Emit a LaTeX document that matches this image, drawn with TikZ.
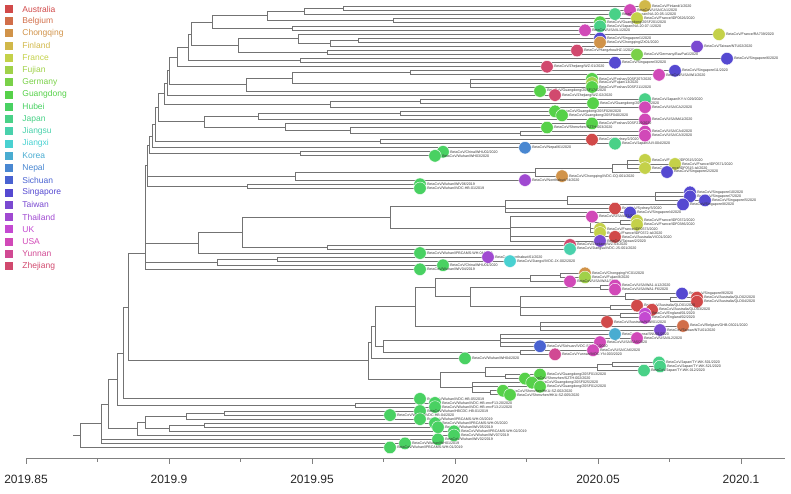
\documentclass[tikz,border=0pt]{standalone}
\usepackage{fontspec}
\setmainfont{Liberation Sans}
\usetikzlibrary{positioning,backgrounds}
\definecolor{cAustralia}{RGB}{209,73,73}
\definecolor{cBelgium}{RGB}{209,110,73}
\definecolor{cChongqing}{RGB}{209,147,73}
\definecolor{cFinland}{RGB}{209,184,73}
\definecolor{cFrance}{RGB}{196,209,73}
\definecolor{cFujian}{RGB}{160,209,73}
\definecolor{cGermany}{RGB}{122,209,73}
\definecolor{cGuangdong}{RGB}{86,209,73}
\definecolor{cHubei}{RGB}{73,209,98}
\definecolor{cJapan}{RGB}{73,209,135}
\definecolor{cJiangsu}{RGB}{73,209,172}
\definecolor{cJiangxi}{RGB}{73,209,209}
\definecolor{cKorea}{RGB}{73,172,209}
\definecolor{cNepal}{RGB}{73,135,209}
\definecolor{cSichuan}{RGB}{73,98,209}
\definecolor{cSingapore}{RGB}{85,73,209}
\definecolor{cTaiwan}{RGB}{122,73,209}
\definecolor{cThailand}{RGB}{160,73,209}
\definecolor{cUK}{RGB}{196,73,209}
\definecolor{cUSA}{RGB}{209,73,184}
\definecolor{cYunnan}{RGB}{209,73,147}
\definecolor{cZhejiang}{RGB}{209,73,110}
\newcommand{\tip}[4]{%
  \node[dot, fill=c#3] (t#1) at (#2, {6+4.05*(#1-1)}) {};
  \node[tl, right=0pt of t#1] (l#1) {BetaCoV/#4};}
\newcommand{\nd}[3]{\coordinate (#1) at (#2, {6+4.05*(#3-1)});}
\newcommand{\br}[2]{\foreach \ch in {#2} {\draw[twig] (#1) |- (\ch);}}

\begin{document}
\begin{tikzpicture}[x=1pt, y=-1pt,
  dot/.style={circle, draw=white, line width=0.4pt, minimum size=12.5pt, inner sep=0pt},
  tl/.style={font=\fontsize{3.6}{4}\selectfont, text=black!80, inner sep=0.6pt},
  twig/.style={draw=black!55, line width=0.75pt},
  sq/.style={minimum size=8pt, inner sep=0pt},
  lgt/.style={font=\fontsize{8.5}{10}\selectfont, inner sep=0pt},
  axisl/.style={draw=black!50, line width=0.7pt},
  ticklab/.style={font=\fontsize{12}{14}\selectfont, text=black!85, inner sep=0pt}]
  \useasboundingbox (0,0) rectangle (791,493);

  \foreach \nm [count=\i from 0] in {Australia,Belgium,Chongqing,Finland,France,Fujian,Germany,Guangdong,Hubei,Japan,Jiangsu,Jiangxi,Korea,Nepal,Sichuan,Singapore,Taiwan,Thailand,UK,USA,Yunnan,Zhejiang} {
    \node[sq, fill=c\nm] (sq\i) at (9, {9+12.24*\i}) {};
    \node[lgt, text=c\nm, right=9pt of sq\i] (lg\i) {\nm};
  }

  \tip{1}{645}{Finland}{Finland/1/2020}
  \tip{2}{630}{USA}{USA/CA1/2020}
  \tip{3}{615}{Japan}{Japan/NA-20-05-1/2020}
  \tip{4}{637}{France}{France/IDF0626/2020}
  \tip{5}{600}{Guangdong}{Guangdong/20SF201/2020}
  \tip{6}{600}{Japan}{Japan/NA-20-07-1/2020}
  \tip{7}{585}{USA}{USA/IL1/2020}
  \tip{8}{719}{France}{France/RA739/2020}
  \tip{9}{600}{Singapore}{Singapore/1/2020}
  \tip{10}{600}{Chongqing}{Chongqing/ZX01/2020}
  \tip{11}{697}{Taiwan}{Taiwan/NTU02/2020}
  \tip{12}{577}{Zhejiang}{Hangzhou/HZ-1/2020}
  \tip{13}{637}{Germany}{Germany/BavPat1/2020}
  \tip{14}{727}{Singapore}{Singapore/6/2020}
  \tip{15}{615}{Singapore}{Singapore/3/2020}
  \tip{16}{547}{Zhejiang}{Zhejiang/WZ-01/2020}
  \tip{17}{675}{Singapore}{Singapore/11/2020}
  \tip{18}{659}{USA}{USA/WI1/2020}
  \tip{19}{592}{Guangdong}{Foshan/20SF207/2020}
  \tip{20}{592}{Fujian}{Fujian/13/2020}
  \tip{21}{592}{Guangdong}{Foshan/20SF211/2020}
  \tip{22}{540}{Guangdong}{Guangdong/20SF174/2020}
  \tip{23}{555}{Zhejiang}{Zhejiang/WZ-02/2020}
  \tip{24}{645}{Japan}{Japan/KY-V-029/2020}
  \tip{25}{593}{Guangdong}{Guangdong/20SF176/2020}
  \tip{26}{645}{USA}{USA/CA2/2020}
  \tip{27}{555}{Guangdong}{Guangdong/20SF028/2020}
  \tip{28}{562}{Guangdong}{Guangdong/20SF040/2020}
  \tip{29}{645}{USA}{USA/MA1/2020}
  \tip{30}{592}{Guangdong}{Foshan/20SF210/2020}
  \tip{31}{547}{Guangdong}{Shenzhen/SZTH-003/2020}
  \tip{32}{645}{USA}{USA/CA4/2020}
  \tip{33}{645}{USA}{USA/CA3/2020}
  \tip{34}{592}{Australia}{Sydney/2/2020}
  \tip{35}{615}{Japan}{Japan/AI/I-004/2020}
  \tip{36}{525}{Nepal}{Nepal/61/2020}
  \tip{37}{443}{Hubei}{China/WHU02/2020}
  \tip{38}{435}{Hubei}{Wuhan/WH03/2020}
  \tip{39}{645}{France}{France/IDF0515/2020}
  \tip{40}{675}{France}{France/IDF0571/2020}
  \tip{41}{645}{France}{France/IDF0515-isl/2020}
  \tip{42}{667}{Singapore}{Singapore/2/2020}
  \tip{43}{562}{Chongqing}{Chongqing/IVDC-CQ-001/2020}
  \tip{44}{525}{Thailand}{Nonthaburi/74/2020}
  \tip{45}{420}{Hubei}{Wuhan/WIV06/2019}
  \tip{46}{420}{Hubei}{Wuhan/IVDC-HB-01/2019}
  \tip{47}{690}{Singapore}{Singapore/10/2020}
  \tip{48}{690}{Singapore}{Singapore/7/2020}
  \tip{49}{705}{Singapore}{Singapore/5/2020}
  \tip{50}{683}{Singapore}{Singapore/8/2020}
  \tip{51}{615}{Australia}{Sydney/3/2020}
  \tip{52}{630}{Singapore}{Singapore/4/2020}
  \tip{53}{592}{USA}{USA/AZ1/2020}
  \tip{54}{637}{France}{France/IDF0372/2020}
  \tip{55}{637}{France}{France/IDF0386/2020}
  \tip{56}{600}{France}{France/IDF0373/2020}
  \tip{57}{600}{France}{France/IDF0372-isl/2020}
  \tip{58}{615}{Australia}{Australia/VIC01/2020}
  \tip{59}{600}{Taiwan}{Taiwan/2/2020}
  \tip{60}{570}{Zhejiang}{Zhejiang/WZ-03/2020}
  \tip{61}{570}{Jiangsu}{Jiangsu/IVDC-JS-001/2020}
  \tip{62}{420}{Hubei}{Wuhan/IPBCAMS-WH-04/2019}
  \tip{63}{488}{Thailand}{Nonthaburi/61/2020}
  \tip{64}{510}{Jiangxi}{Jiangxi/IVDC-JX-002/2020}
  \tip{65}{443}{Hubei}{China/WHU01/2020}
  \tip{66}{420}{Hubei}{Wuhan/WIV04/2019}
  \tip{67}{585}{Chongqing}{Chongqing/YC01/2020}
  \tip{68}{585}{Fujian}{Fujian/8/2020}
  \tip{69}{570}{USA}{USA/WA1/2020}
  \tip{70}{615}{USA}{USA/WA1-A12/2020}
  \tip{71}{615}{USA}{USA/WA1-F6/2020}
  \tip{72}{682}{Singapore}{Singapore/9/2020}
  \tip{73}{697}{Australia}{Australia/QLD02/2020}
  \tip{74}{697}{Australia}{Australia/QLD04/2020}
  \tip{75}{637}{Australia}{Australia/QLD01/2020}
  \tip{76}{652}{Australia}{Australia/QLD03/2020}
  \tip{77}{645}{UK}{England/01/2020}
  \tip{78}{645}{UK}{England/02/2020}
  \tip{79}{607}{Australia}{Australia/NSW01/2020}
  \tip{80}{683}{Belgium}{Belgium/GHB-03021/2020}
  \tip{81}{660}{Taiwan}{Taiwan/NTU01/2020}
  \tip{82}{615}{Korea}{Korea/SNU01/2020}
  \tip{83}{637}{USA}{USA/IL2/2020}
  \tip{84}{600}{USA}{USA/CA5/2020}
  \tip{85}{540}{Sichuan}{Sichuan/IVDC-SC-001/2020}
  \tip{86}{593}{USA}{USA/CA6/2020}
  \tip{87}{555}{Yunnan}{Yunnan/IVDC-YN-003/2020}
  \tip{88}{465}{Hubei}{Wuhan/WH04/2020}
  \tip{89}{659}{Japan}{Japan/TY-WK-501/2020}
  \tip{90}{660}{Japan}{Japan/TY-WK-521/2020}
  \tip{91}{644}{Japan}{Japan/TY-WK-012/2020}
  \tip{92}{540}{Guangdong}{Guangdong/20SF013/2020}
  \tip{93}{525}{Guangdong}{Shenzhen/SZTH-002/2020}
  \tip{94}{532}{Guangdong}{Guangdong/20SF025/2020}
  \tip{95}{540}{Guangdong}{Guangdong/20SF012/2020}
  \tip{96}{503}{Guangdong}{Shenzhen/HKU-SZ-002/2020}
  \tip{97}{510}{Guangdong}{Shenzhen/HKU-SZ-005/2020}
  \tip{98}{420}{Hubei}{Wuhan/IVDC-HB-05/2019}
  \tip{99}{435}{Hubei}{Wuhan/IVDC-HB-envF13-20/2020}
  \tip{100}{435}{Hubei}{Wuhan/IVDC-HB-envF13-21/2020}
  \tip{101}{420}{Hubei}{Wuhan/HBCDC-HB-01/2019}
  \tip{102}{390}{Hubei}{Wuhan/IVDC-HB-04/2020}
  \tip{103}{420}{Hubei}{Wuhan/IPBCAMS-WH-03/2019}
  \tip{104}{435}{Hubei}{Wuhan/IPBCAMS-WH-05/2020}
  \tip{105}{438}{Hubei}{Wuhan/WIV05/2019}
  \tip{106}{454}{Hubei}{Wuhan/IPBCAMS-WH-02/2019}
  \tip{107}{454}{Hubei}{Wuhan/WIV07/2019}
  \tip{108}{438}{Hubei}{Wuhan/WIV02/2019}
  \tip{109}{405}{Hubei}{Wuhan/WH01/2019}
  \tip{110}{390}{Hubei}{Wuhan/IPBCAMS-WH-01/2019}

  \nd{u1}{343}{1.5} \nd{u2}{304}{2.25} \nd{u3b}{393}{4.5} \nd{u3}{267}{3.4}
  \nd{u4b}{292}{6.5} \nd{u4}{212}{4.95} \nd{u5e}{358}{9.5} \nd{u5f}{330}{10.25}
  \nd{u5c}{298}{9.1} \nd{u5d}{327}{12.5} \nd{u5b}{238}{10.8} \nd{u5}{191}{7.9}
  \nd{u6b}{300}{14.5} \nd{u6}{188}{11.2} \nd{u7}{177}{13.6} \nd{u8d}{410}{17.5}
  \nd{u8e}{470}{20} \nd{u8c}{292}{18.75} \nd{u8b}{246}{20.4} \nd{u8}{169}{17}
  \nd{u9}{167}{20} \nd{u10c}{420}{24.5} \nd{u10b}{330}{25.25} \nd{u10}{164}{22.6}
  \nd{u11e}{400}{27.5} \nd{u11c}{258}{28.25} \nd{u11g}{520}{32.5} \nd{u11f}{350}{31.75}
  \nd{u11d}{285}{30.9} \nd{u11b}{204}{29.6} \nd{u11}{158}{26.1} \nd{u12b}{380}{34.5}
  \nd{u12}{155}{30.3} \nd{u13}{152}{33.2} \nd{u14b}{300}{37.5} \nd{u14}{149}{35.3}
  \nd{v4}{627}{40} \nd{v3}{612}{41} \nd{v2}{535}{42} \nd{v1}{295}{43} \nd{v5}{247}{45.5}
  \nd{n6a}{147}{40.4}
  \nd{w1b}{655}{48} \nd{w1a}{567}{49} \nd{w1}{505}{50.5} \nd{w2b}{620}{54.5}
  \nd{w2a}{590}{55.75} \nd{w2}{510}{56} \nd{w}{390}{53.25} \nd{x327}{327}{60.5}
  \nd{x242}{242}{56.9} \nd{x198}{198}{59.5} \nd{x277}{277}{63.5} \nd{x217}{217}{64.25}
  \nd{n6}{145}{62}
  \nd{g7a}{560}{67.5} \nd{g7}{530}{68.25} \nd{g8a}{600}{70.5} \nd{g8d}{670}{73.5}
  \nd{g8c}{625}{72.75} \nd{g8e}{610}{75.5} \nd{g8f}{620}{77.5} \nd{g8b}{520}{75.1}
  \nd{g8}{470}{72.8} \nd{g5}{435}{70.5} \nd{g6}{540}{80} \nd{g3}{415}{75.25}
  \nd{g9}{500}{83.5} \nd{g10}{520}{86.5} \nd{g4}{383}{85} \nd{g2}{375}{80.1}
  \nd{g1}{371}{84} \nd{jn2}{612}{89.5} \nd{jn}{597}{90.25} \nd{gd1}{505}{92.5}
  \nd{j}{485}{91.4} \nd{gd3}{490}{96.5} \nd{gd2}{472}{95.25} \nd{gdj}{440}{93.3}
  \nd{g}{368}{88.6}
  \nd{n5}{128}{75.3} \nd{n4}{123}{86.65} \nd{f}{355}{99.5} \nd{n3}{117}{93.1}
  \nd{h1}{224}{101.5} \nd{h2}{186}{102.25} \nd{h3}{204}{104.5} \nd{h4}{169}{105.25}
  \nd{h5}{145}{103.75} \nd{n2b}{137}{105.4} \nd{n2}{108}{99.25} \nd{n1}{101}{104.1}
  \nd{r}{80}{107.05} \nd{r0}{73}{107.05}

  \begin{scope}[on background layer]
    \br{u1}{t1,t2} \br{u2}{u1,t3} \br{u3b}{t4,t5} \br{u3}{u2,u3b}
    \br{u4b}{t6,t7} \br{u4}{u3,u4b} \br{u5e}{t9,t10} \br{u5f}{u5e,t11}
    \br{u5c}{t8,u5f} \br{u5d}{t12,t13} \br{u5b}{u5c,u5d} \br{u5}{u4,u5b}
    \br{u6b}{t14,t15} \br{u6}{u5,u6b} \br{u7}{u6,t16} \br{u8d}{t17,t18}
    \br{u8e}{t19,t20,t21} \br{u8c}{u8d,u8e} \br{u8b}{u8c,t22} \br{u8}{u7,u8b}
    \br{u9}{u8,t23} \br{u10c}{t24,t25} \br{u10b}{u10c,t26} \br{u10}{u9,u10b}
    \br{u11e}{t27,t28} \br{u11c}{u11e,t29} \br{u11g}{t32,t33} \br{u11f}{t31,u11g}
    \br{u11d}{t30,u11f} \br{u11b}{u11c,u11d} \br{u11}{u10,u11b} \br{u12b}{t34,t35}
    \br{u12}{u11,u12b} \br{u13}{u12,t36} \br{u14b}{t37,t38} \br{u14}{u13,u14b}
    \br{v4}{t39,t40,t41} \br{v3}{v4,t42} \br{v2}{v3,t43} \br{v1}{v2,t44}
    \br{v5}{t45,t46} \br{n6a}{u14,v1,v5}
    \br{w1b}{t47,t48,t49} \br{w1a}{w1b,t50} \br{w1}{w1a,t51,t52} \br{w2b}{t54,t55}
    \br{w2a}{w2b,t56,t57} \br{w2}{t53,w2a,t58,t59} \br{w}{w1,w2} \br{x327}{t60,t61}
    \br{x242}{w,x327} \br{x198}{x242,t62} \br{x277}{t63,t64} \br{x217}{x277,t65}
    \br{n6}{n6a,x198,x217,t66}
    \br{g7a}{t67,t68} \br{g7}{g7a,t69} \br{g8a}{t70,t71} \br{g8d}{t73,t74}
    \br{g8c}{t72,g8d} \br{g8e}{t75,t76} \br{g8f}{t77,t78} \br{g8b}{g8c,g8e,g8f}
    \br{g8}{g8a,g8b} \br{g5}{g7,g8} \br{g6}{t79,t80,t81} \br{g3}{g5,g6}
    \br{g9}{t82,t83,t84,t85} \br{g10}{t86,t87} \br{g4}{g9,g10} \br{g2}{g3,g4}
    \br{g1}{g2,t88} \br{jn2}{t89,t90} \br{jn}{jn2,t91} \br{gd1}{t92,t93}
    \br{j}{jn,gd1} \br{gd3}{t96,t97} \br{gd2}{t94,t95,gd3} \br{gdj}{j,gd2}
    \br{g}{g1,gdj}
    \br{n5}{n6,g} \br{n4}{n5,t98} \br{f}{t99,t100} \br{n3}{n4,f}
    \br{h1}{t101,t102} \br{h2}{h1,t103} \br{h3}{t104,t105} \br{h4}{h3,t106}
    \br{h5}{h2,h4} \br{n2b}{h5,t107} \br{n2}{n3,n2b} \br{n1}{n2,t108,t109}
    \br{r}{n1,t110}
    \draw[twig] (r0) -- (r);
  \end{scope}

  \coordinate (ax0) at (26,458);
  \coordinate (ax1) at (785,458);
  \draw[axisl] (ax0) -- (ax1);
  \foreach \v [count=\i from 0] in {2019.85,2019.9,2019.95,2020,2020.05,2020.1} {
    \draw[axisl] ({26+143*\i},458) -- ++(0,6);
    \node[ticklab] (tk\i) at ({26+143*\i},479) {\v};
  }
  \foreach \i in {0,...,4} \draw[axisl] ({97.5+143*\i},458) -- ++(0,3.5);
\end{tikzpicture}
\end{document}
